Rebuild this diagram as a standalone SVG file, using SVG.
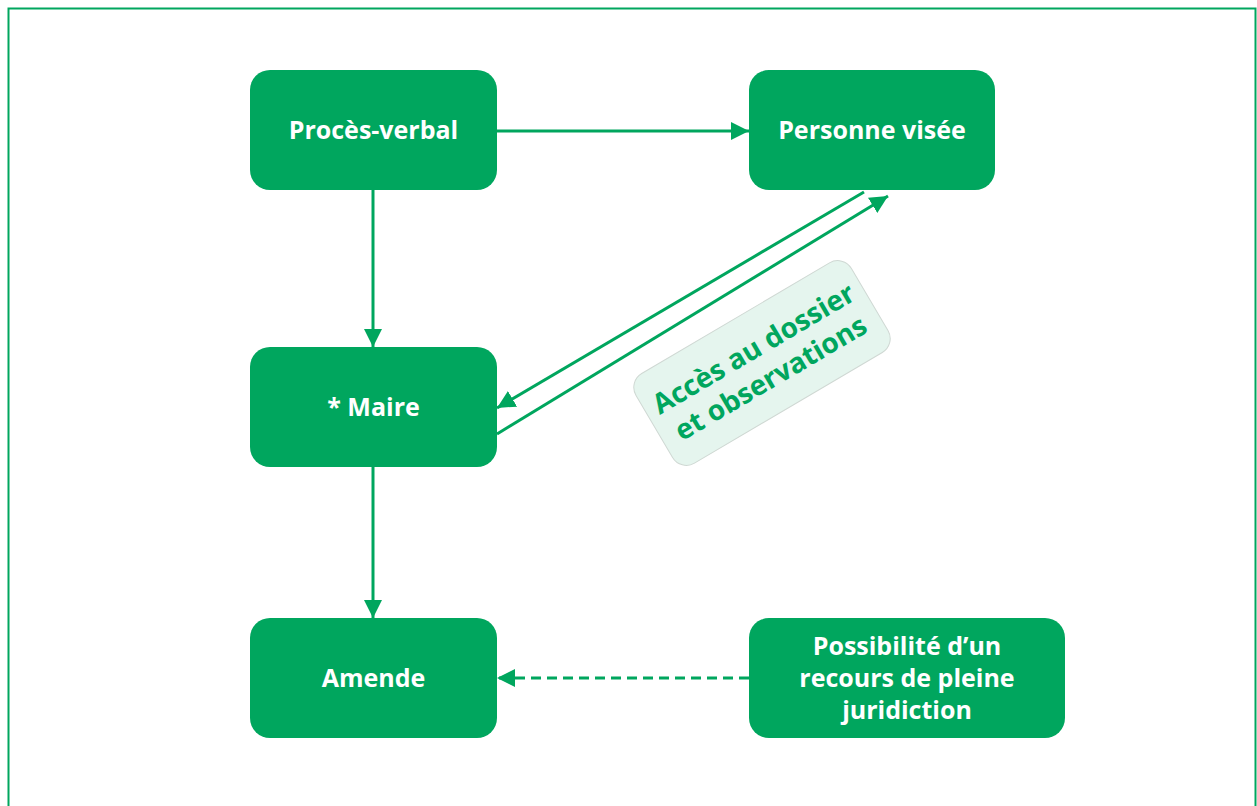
<svg xmlns="http://www.w3.org/2000/svg" width="1257" height="806" viewBox="0 0 1257 806">
<defs>
<style>
.node rect{fill:#00a65e;}
.node text{fill:#fff;font-family:"Open Sans","Liberation Sans",sans-serif;font-weight:bold;font-size:25px;text-anchor:middle;}
.conn line{stroke:#00a65e;stroke-width:3;fill:none;}
.dash{stroke-dasharray:10 6;}
.lbl text{fill:#00a65e;font-family:"Open Sans","Liberation Sans",sans-serif;font-weight:bold;font-size:28px;text-anchor:middle;}
</style>
<marker id="a" viewBox="0 0 10 10" refX="10" refY="5" markerWidth="6" markerHeight="6" orient="auto">
<path d="M0,0 L10,5 L0,10 z" fill="#00a65e"/>
</marker>
</defs>
<rect x="0" y="0" width="1257" height="806" fill="#fff"/>
<rect x="8.5" y="8.5" width="1247" height="820" fill="none" stroke="#00a65e" stroke-width="2"/>

<g id="connectors" class="conn">
<line x1="497" y1="131" x2="749" y2="131" marker-end="url(#a)"/>
<line x1="373" y1="190" x2="373" y2="347" marker-end="url(#a)"/>
<line x1="373" y1="467" x2="373" y2="618" marker-end="url(#a)"/>
<line class="dash" x1="749" y1="678" x2="497" y2="678" marker-end="url(#a)"/>
<line x1="864" y1="192" x2="497" y2="408" marker-end="url(#a)"/>
<line x1="497" y1="434" x2="888" y2="196" marker-end="url(#a)"/>
</g>

<g id="n-proces" class="node">
<rect x="250" y="70" width="247" height="120" rx="20"/>
<text x="373.5" y="139">Procès-verbal</text>
</g>
<g id="n-personne" class="node">
<rect x="749" y="70" width="246" height="120" rx="20"/>
<text x="872" y="139">Personne visée</text>
</g>
<g id="n-maire" class="node">
<rect x="250" y="347" width="247" height="120" rx="20"/>
<text x="373.5" y="416">* Maire</text>
</g>
<g id="n-amende" class="node">
<rect x="250" y="618" width="247" height="120" rx="20"/>
<text x="373.5" y="687">Amende</text>
</g>
<g id="n-recours" class="node">
<rect x="749" y="618" width="316" height="120" rx="20"/>
<text x="907" y="655">Possibilité d’un</text>
<text x="907" y="687">recours de pleine</text>
<text x="907" y="719">juridiction</text>
</g>

<g id="label-acces" class="lbl" transform="translate(762,363) rotate(-30.5)">
<rect x="-125" y="-52" width="250" height="104" rx="16" fill="#e5f5ee" stroke="#cfd8d3" stroke-width="1"/>
<text x="0" y="-7">Accès au dossier</text>
<text x="0" y="27">et observations</text>
</g>
</svg>
